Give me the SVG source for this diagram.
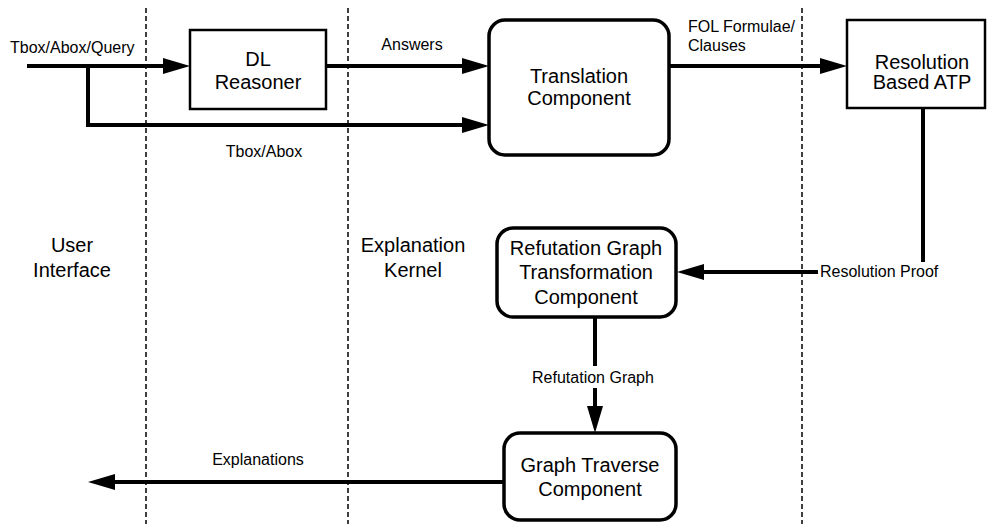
<svg xmlns="http://www.w3.org/2000/svg" width="988" height="524" viewBox="0 0 988 524">
<style>
text{font-family:"Liberation Sans",Arial,sans-serif;fill:#000}
.n{font-size:20px;text-anchor:middle}
.l{font-size:16px}
.c{text-anchor:middle}
.sq{fill:#fff;stroke:#000;stroke-width:2.5}
.rd{fill:#fff;stroke:#000;stroke-width:3.5}
.ln{fill:none;stroke:#000;stroke-width:4}
.ar{fill:none;stroke:#000;stroke-width:4;marker-end:url(#ah)}
.ds{stroke:#000;stroke-width:1.5;stroke-dasharray:5 3}
</style>
<defs>
<marker id="ah" markerUnits="userSpaceOnUse" markerWidth="28" markerHeight="18" refX="0" refY="8" orient="auto" viewBox="0 0 28 16">
<path d="M0,0 L27,8 L0,16 z" fill="#000"/>
</marker>
</defs>
<rect width="988" height="524" fill="#fff"/>
<g id="lanes">
<line class="ds" x1="146" y1="8" x2="146" y2="524"/>
<line class="ds" x1="348" y1="8" x2="348" y2="524"/>
<line class="ds" x1="802" y1="8" x2="802" y2="524"/>
<text class="n" x="72" y="252">User</text>
<text class="n" x="72" y="277">Interface</text>
<text class="n" x="413" y="252">Explanation</text>
<text class="n" x="413" y="277">Kernel</text>
</g>
<g id="connectors">
<path class="ar" d="M27,66 H163"/>
<path class="ar" d="M88,66 V125 H462"/>
<path class="ar" d="M326,66 H462"/>
<path class="ar" d="M669,66 H820"/>
<path class="ln" d="M923,108 V262"/>
<path class="ar" d="M818,272 H704"/>
<path class="ln" d="M595,317 V366"/>
<path class="ar" d="M595,388 V406"/>
<path class="ar" d="M504,482 H115"/>
<text class="l" x="10" y="53">Tbox/Abox/Query</text>
<text class="l c" x="412" y="50">Answers</text>
<text class="l c" x="264" y="157">Tbox/Abox</text>
<text class="l" x="688" y="32">FOL Formulae/</text>
<text class="l" x="688" y="51">Clauses</text>
<text class="l" x="820" y="277">Resolution Proof</text>
<text class="l c" x="593" y="383">Refutation Graph</text>
<text class="l c" x="258" y="465">Explanations</text>
</g>
<g id="dl-reasoner">
<rect class="sq" x="190" y="30" width="136" height="79"/>
<text class="n" x="258" y="66">DL</text>
<text class="n" x="258" y="89">Reasoner</text>
</g>
<g id="translation">
<rect class="rd" x="489" y="20" width="180" height="135" rx="16"/>
<text class="n" x="579" y="83">Translation</text>
<text class="n" x="579" y="105">Component</text>
</g>
<g id="atp">
<rect class="sq" x="847" y="20" width="138" height="88"/>
<text class="n" x="922" y="69">Resolution</text>
<text class="n" x="922" y="89">Based ATP</text>
</g>
<g id="refutation">
<rect class="rd" x="497" y="228" width="179" height="89" rx="16"/>
<text class="n" x="586" y="255">Refutation Graph</text>
<text class="n" x="586" y="279">Transformation</text>
<text class="n" x="586" y="304">Component</text>
</g>
<g id="traverse">
<rect class="rd" x="504" y="433" width="172" height="87" rx="16"/>
<text class="n" x="590" y="472">Graph Traverse</text>
<text class="n" x="590" y="496">Component</text>
</g>
</svg>
